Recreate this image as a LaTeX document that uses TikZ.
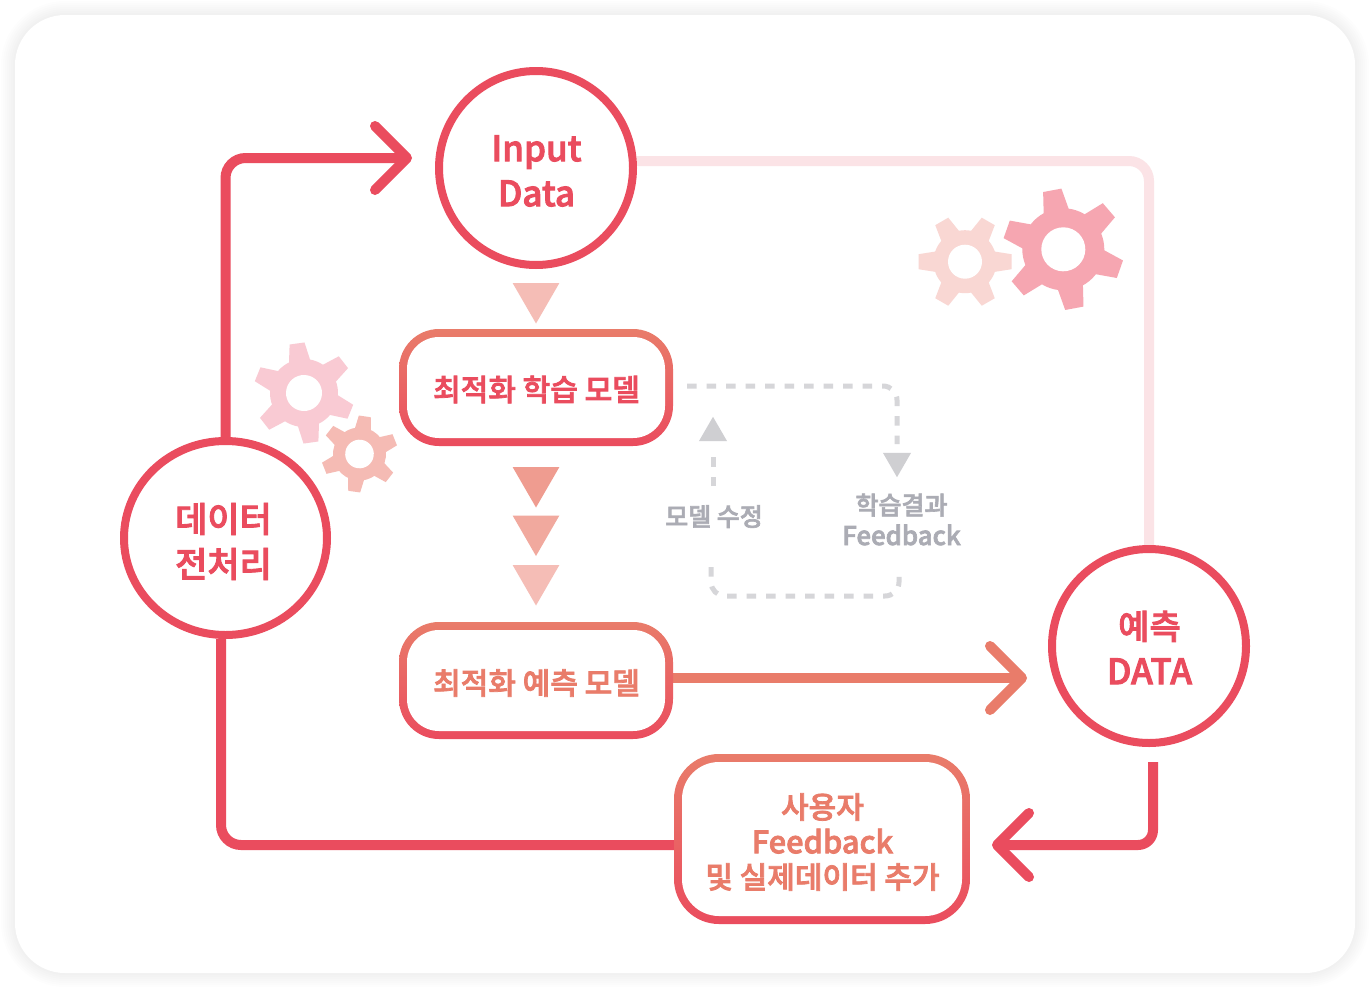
\documentclass[tikz,border=0pt]{standalone}
\usepackage{fontspec}
\setmainfont{Noto Sans CJK KR}
\newfontfamily\medfont[FakeBold=2.5]{Noto Sans CJK KR Medium}
\usepackage{xcolor}
\usetikzlibrary{arrows.meta,backgrounds,shapes.geometric}

\definecolor{mainred}{HTML}{EA4C5E}
\definecolor{coral}{HTML}{E97C6A}
\definecolor{paleline}{HTML}{FBE3E6}
\definecolor{dashgray}{HTML}{D6D6D9}
\definecolor{triagray}{HTML}{CFCFD2}
\definecolor{labelgray}{HTML}{ABACB4}
\definecolor{triapale}{HTML}{F5BDB6}
\definecolor{triadark}{HTML}{EF9C90}
\definecolor{triamid}{HTML}{F1A99E}
\definecolor{gearpink}{HTML}{F9CAD3}
\definecolor{gearsalmon}{HTML}{F5BBB4}
\definecolor{gearblush}{HTML}{F9D7D3}
\definecolor{gearrose}{HTML}{F6A6B1}

\begin{document}
\begin{tikzpicture}[
    x=1pt, y=-1pt,
    circ/.style     ={circle, draw=mainred, line width=8pt, fill=white, minimum size=194pt,
                      inner sep=0pt},
    circlbl/.style  ={align=center, text=mainred, inner sep=0pt,
                      font=\fontsize{34}{45}\selectfont\medfont},
    boxframe/.style ={rounded corners=40pt, top color=coral, bottom color=mainred,
                      minimum width=274pt, minimum height=117pt, inner sep=0pt, outer sep=0pt},
    boxin/.style    ={rounded corners=32pt, fill=white, minimum width=258pt, minimum height=101pt,
                      inner sep=0pt},
    boxlbl/.style   ={align=center, inner sep=0pt, font=\fontsize{30}{35}\selectfont\medfont},
    tria/.style     ={regular polygon, regular polygon sides=3, shape border rotate=180,
                      minimum size=54pt, inner sep=0pt},
    graytria/.style ={regular polygon, regular polygon sides=3, fill=triagray,
                      minimum size=32.4pt, inner sep=0pt},
    graylbl/.style  ={text=labelgray, align=center, inner sep=0pt,
                      font=\fontsize{25}{30.5}\selectfont\medfont},
    flow/.style     ={line width=10pt, draw=mainred, rounded corners=20pt},
    barb/.style     ={-{Straight Barb[length=32pt,width=64pt,round]}},
    dashflow/.style ={line width=5pt, draw=dashgray, dash pattern=on 9.5pt off 10pt, rounded corners=14pt}
]
\useasboundingbox (0,0) rectangle (1370,988);

% --- Three circles, the left one a little wider. ---
\node[circ] (input) at (536,168)   {};
\node[circ, ellipse, minimum width=203pt, minimum height=194pt] (prep) at (225.5,538) {};
\node[circ] (pred)  at (1149,646)  {};
\node[circlbl, font=\fontsize{35}{45}\selectfont\medfont] (inputlbl) at (536.5,171) {Input\\Data};
\node[circlbl, font=\fontsize{35}{45}\selectfont\medfont] (preplbl) at (223.5,541.5) {데이터\\전처리};
\node[circlbl] (predlbl)  at (1149.5,647.5) {예측\\\fontsize{35}{45}\selectfont DATA};

% --- Boxes: the shaded frame, the white inner part, then the text. ---
\node[boxframe] (learnframe) at (536,387.5) {};
\node[boxin]    (learnin)    at (learnframe) {};
\node[boxlbl, text=mainred] (learn) at (536.5,389.5) {최적화 학습 모델};
\node[boxframe] (testframe)  at (536,680.5) {};
\node[boxin]    (testin)     at (testframe) {};
\node[boxlbl, text=coral] (test) at (536.5,683) {최적화 예측 모델};
\node[boxframe, rounded corners=45pt, minimum width=296pt, minimum height=170pt] (userframe) at (822,839) {};
\node[boxin, rounded corners=37pt, minimum width=280pt, minimum height=154pt] (userin) at (userframe) {};
\node[boxlbl, text=coral] (user) at (822.5,842) {사용자\\\fontsize{30.8}{35}\selectfont Feedback\\및 실제데이터 추가};

% --- Triangles down the middle. ---
\node[tria, fill=triapale] (tri1) at (536,296.5) {};
\node[tria, fill=triadark] (tri2) at (536,480.5) {};
\node[tria, fill=triamid]  (tri3) at (536,529) {};
\node[tria, fill=triapale] (tri4) at (536,578.5) {};

% --- Grey loop. ---
\node[graytria, shape border rotate=180] (loopdown) at (897,461) {};
\node[graytria] (loopup) at (713,433) {};
\node[graylbl] (lblfix)  at (714,516.5) {모델 수정};
\node[graylbl] (lblres)  at (901.5,519.5) {학습결과\\\fontsize{25.8}{30.5}\selectfont Feedback};

% --- Gears: x/y/rotation/tip/body/hole/tip half width/base half width/colour. ---
\foreach \gx/\gy/\grot/\gtip/\gbody/\ghole/\gtw/\gbw/\gcol in {
    304/393/98/50/34/18/7.5/11/gearpink,
    359.5/454/82/38/26.5/14.3/6/8.5/gearsalmon,
    965/261.7/0/46.5/31.5/17/7.5/10.5/gearblush,
    1063.3/249.3/100.6/60/41/22/9.3/13/gearrose} {
  \begin{scope}[shift={(\gx,\gy)}, y=1pt, rotate=\grot]
    \fill[color=\gcol] (0,0) circle (\gbody);
    \foreach \a in {0,60,...,300}
      \fill[color=\gcol, rotate=\a] (\gbody-4,-\gbw) -- (\gtip,-\gtw) -- (\gtip,\gtw) -- (\gbody-4,\gbw) -- cycle;
    \fill[white] (0,0) circle (\ghole);
  \end{scope}
}

% --- Free ends of the connectors. ---
\coordinate (inputtip) at (412,158);
\coordinate (inputout) at (637,161);
\coordinate (predtip) at (1027,678);
\coordinate (predout) at (1153,762);
\coordinate (usertip) at (992,845);
\coordinate (downa)   at (687,386);
\coordinate (downb)   at (897,444);
\coordinate (upa)     at (713,486);
\coordinate (upb)     at (713,447);
\coordinate (lowa)    at (711,567);
\coordinate (lowb)    at (899,567);
\coordinate (lowc)    at (805,596);

\begin{scope}[on background layer]
  % --- Card with its soft edge. ---
  \fill[white] (0,0) rectangle (1370,988);
  \foreach \w in {28,24,...,4}
    \draw[line width=\w pt, black, opacity=0.007, rounded corners=50pt] (15,15) rectangle (1355,973);
  \fill[white, rounded corners=50pt] (15,15) rectangle (1355,973);

  % --- Pale link behind the circles. ---
  \draw[flow, draw=paleline] (inputout) -| (pred.north);

  % --- Main red loop. ---
  \draw[flow, barb] (prep.north) |- (inputtip);
  \draw[flow] ([xshift=-4.5pt]prep.south) |- ([yshift=-6pt]userframe.west);
  \draw[flow, rounded corners=15pt, barb] (predout) |- (usertip);
  \draw[flow, draw=coral, barb] ([yshift=2.5pt]testframe.east) -- (predtip);

  % --- Grey dashed loop. ---
  \draw[dashflow] (downa) -| (downb);
  \draw[dashflow] (upa) -- (upb);
  \draw[dashflow] (lowa) |- (lowc) -| (lowb);
\end{scope}

\end{tikzpicture}
\end{document}
